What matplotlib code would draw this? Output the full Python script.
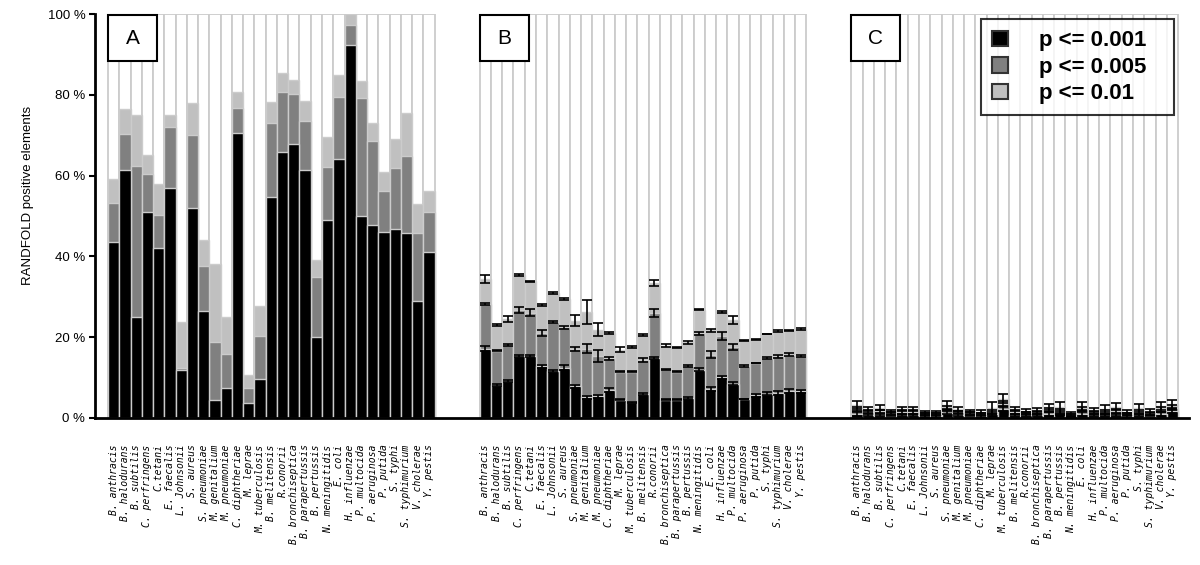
import numpy as np
import matplotlib.pyplot as plt
from matplotlib.patches import Patch, Rectangle

species = ['B. anthracis', 'B. halodurans', 'B. subtilis', 'C. perfringens', 'C.tetani',
           'E. faecalis', 'L. Johnsonii', 'S. aureus', 'S. pneumoniae', 'M. genitalium',
           'M. pneumoniae', 'C. diphtheriae', 'M. leprae', 'M. tuberculosis', 'B. melitensis',
           'R.conorii', 'B. bronchiseptica', 'B. parapertussis', 'B. pertussis',
           'N. meningitidis', 'E. coli', 'H. influenzae', 'P. multocida', 'P. aeruginosa',
           'P. putida', 'S. typhi', 'S. typhimurium', 'V. cholerae', 'Y. pestis']

# A: cumulative fractions (%) per p-value threshold
a_001 = [43.6, 61.4, 24.9, 50.9, 42.0, 56.9, 11.9, 51.9, 26.6, 4.5, 7.4, 70.5, 3.8, 9.7, 54.6,
         65.8, 67.9, 61.3, 20.0, 48.9, 64.1, 92.3, 49.9, 47.7, 46.0, 46.8, 45.8, 29.0, 41.0]
a_005 = [53.2, 70.2, 62.3, 60.3, 50.3, 72.1, 12.4, 70.1, 37.6, 18.8, 15.9, 76.7, 7.5, 20.2, 73.0,
         80.7, 80.3, 73.6, 34.8, 62.2, 79.5, 97.4, 79.1, 68.5, 56.3, 61.8, 64.9, 45.8, 51.1]
a_01 = [59.2, 76.6, 75.1, 65.2, 58.0, 74.9, 23.7, 77.9, 44.1, 38.2, 25.0, 80.6, 10.7, 27.8, 78.3,
        85.4, 83.7, 78.4, 39.0, 69.6, 84.8, 100.0, 83.5, 73.1, 60.8, 69.0, 75.4, 53.0, 56.1]

# B: randomised sequences, mean and error
b_001 = [17.2, 8.2, 9.1, 15.3, 15.3, 12.8, 11.7, 12.4, 7.8, 5.1, 5.4, 7.0, 4.5, 3.9, 5.9,
         14.8, 4.5, 4.5, 4.9, 12.0, 7.2, 10.1, 8.5, 4.7, 5.6, 6.0, 6.2, 6.6, 6.6]
b_005 = [28.1, 16.7, 18.1, 26.8, 26.1, 21.0, 23.7, 22.4, 17.1, 17.2, 15.3, 14.8, 11.5, 11.5, 14.4,
         26.0, 12.1, 11.5, 12.8, 21.0, 15.7, 20.2, 17.6, 12.9, 13.6, 14.8, 15.3, 15.7, 15.4]
b_01 = [34.4, 23.0, 24.5, 35.3, 33.8, 28.0, 30.9, 29.5, 24.1, 26.2, 21.8, 21.0, 16.9, 17.5, 20.6,
        33.4, 17.9, 17.5, 18.7, 26.8, 21.7, 26.2, 24.2, 19.2, 19.4, 20.8, 21.6, 21.7, 22.0]
b_001_err = [0.7, 0.2, 0.3, 0.2, 0.3, 0.4, 0.2, 0.6, 0.3, 0.4, 0.4, 0.5, 0.1, 0.1, 0.3,
             0.3, 0.1, 0.1, 0.2, 0.4, 0.4, 0.4, 0.3, 0.1, 0.3, 0.4, 0.5, 0.5, 0.4]
b_005_err = [0.25, 0.1, 0.2, 0.7, 0.8, 0.7, 0.3, 0.4, 0.4, 1.2, 1.5, 0.4, 0.2, 0.1, 0.5,
             1.0, 0.1, 0.2, 0.2, 0.4, 0.8, 1.0, 0.7, 0.2, 0.1, 0.3, 0.4, 0.4, 0.3]
b_01_err = [0.9, 0.3, 0.7, 0.25, 0.1, 0.3, 0.3, 0.3, 1.3, 2.9, 1.6, 0.2, 0.6, 0.2, 0.3,
            0.8, 0.3, 0.1, 0.3, 0.1, 0.4, 0.3, 1.0, 0.1, 0.2, 0.1, 0.3, 0.2, 0.2]

# C: shuffled sequences, mean and error
c_001 = [1.0, 0.7, 0.8, 0.6, 0.7, 0.7, 0.5, 0.5, 1.3, 0.7, 0.6, 0.5, 1.0, 2.3, 0.8,
         0.7, 0.8, 1.0, 1.2, 0.4, 1.0, 0.7, 0.8, 0.8, 0.5, 0.8, 0.6, 1.0, 1.8]
c_005 = [2.2, 1.6, 1.7, 1.2, 1.5, 1.5, 1.0, 1.0, 2.5, 1.5, 1.2, 1.0, 1.5, 3.5, 1.5,
         1.3, 1.4, 2.0, 1.6, 0.8, 2.2, 1.4, 1.5, 1.7, 1.0, 1.5, 1.1, 2.0, 2.5]
c_01 = [3.2, 2.3, 2.5, 1.7, 2.2, 2.3, 1.5, 1.5, 3.3, 2.2, 1.8, 1.6, 2.5, 4.8, 2.2,
        1.8, 2.0, 2.8, 2.6, 1.2, 3.0, 2.0, 2.3, 2.8, 1.6, 2.5, 1.7, 3.0, 3.5]
c_001_err = [0.4, 0.3, 0.3, 0.2, 0.3, 0.3, 0.2, 0.2, 0.4, 0.3, 0.2, 0.2, 0.5, 0.6, 0.3,
             0.3, 0.3, 0.4, 0.5, 0.2, 0.4, 0.3, 0.3, 0.3, 0.2, 0.3, 0.2, 0.4, 0.5]
c_005_err = [0.5, 0.3, 0.4, 0.2, 0.4, 0.4, 0.2, 0.2, 0.5, 0.3, 0.2, 0.2, 0.6, 0.7, 0.4,
             0.3, 0.4, 0.5, 0.6, 0.2, 0.5, 0.4, 0.4, 0.5, 0.2, 0.5, 0.3, 0.6, 0.6]
c_01_err = [0.9, 0.5, 0.6, 0.3, 0.5, 0.5, 0.3, 0.3, 1.0, 0.5, 0.3, 0.3, 1.4, 1.2, 0.5,
            0.4, 0.5, 0.7, 1.3, 0.3, 0.9, 0.5, 0.8, 0.8, 0.4, 0.9, 0.5, 1.0, 1.0]

panels = ['A', 'B', 'C']
thresholds = ['p <= 0.001', 'p <= 0.005', 'p <= 0.01']
colors = ['#000000', '#808080', '#c0c0c0']
edge = '#cccccc'

data = [
    ([a_001, a_005, a_01], None),
    ([b_001, b_005, b_01], [b_001_err, b_005_err, b_01_err]),
    ([c_001, c_005, c_01], [c_001_err, c_005_err, c_01_err]),
]

n = len(species)
gap = 4

fig = plt.figure(figsize=(12, 5.65), dpi=100)
ax = fig.add_axes([0.0792, 0.2602, 0.9117, 0.7150])

xticks, xlabels = [], []
for k, (levels, errs) in enumerate(data):
    x = k * (n + gap) + np.arange(n) + 0.5
    ax.bar(x, [100] * n, width=1.0, color='white', edgecolor=edge, linewidth=1.3, zorder=1)
    # draw widest threshold first, then stricter ones on top
    for lev, col in zip(levels[::-1], colors[::-1]):
        ax.bar(x, lev, width=1.0, color=col, edgecolor=edge, linewidth=1.0, zorder=2)
    if errs is not None:
        for lev, err in zip(levels, errs):
            ax.errorbar(x, lev, yerr=err, fmt='none', ecolor='black', elinewidth=1.2,
                        capsize=3.5, capthick=1.2, zorder=5)
    x0 = k * (n + gap)
    ax.add_patch(Rectangle((x0, 88.4), 4.35, 11.35, facecolor='white', edgecolor='black',
                           linewidth=1.5, zorder=6, clip_on=False))
    ax.text(x0 + 2.175, 94.0, panels[k], ha='center', va='center', fontsize=15,
            family='Liberation Sans', zorder=7)
    xticks.extend(x)
    xlabels.extend(species)

ax.set_xlim(-1.15, 3 * n + 2 * gap + 0.98)
ax.set_ylim(0, 100)
ax.set_xticks(xticks)
ax.set_xticklabels(xlabels, rotation=90, family='DejaVu Sans Mono', style='oblique', fontsize=7.0)
ax.tick_params(axis='x', length=0, pad=19)

ax.set_yticks([0, 20, 40, 60, 80, 100])
ax.set_yticklabels(['0 %', '20 %', '40 %', '60 %', '80 %', '100 %'],
                   family='Liberation Sans', fontsize=9.5)
ax.tick_params(axis='y', length=4, width=1.5, direction='out', pad=3)
ax.set_ylabel('RANDFOLD positive elements', family='Liberation Sans', fontsize=9.5)
ax.yaxis.set_label_coords(-0.056, 0.55)

for side in ['top', 'right']:
    ax.spines[side].set_visible(False)
ax.spines['left'].set_linewidth(2)
ax.spines['bottom'].set_linewidth(2)

handles = [Patch(facecolor=c, edgecolor='#333333', linewidth=1.5) for c in colors]
leg = ax.legend(handles, thresholds, loc='upper left',
                bbox_to_anchor=(981 / 1200, 1 - 116 / 565, 193 / 1200, 97 / 565),
                bbox_transform=fig.transFigure, mode='expand', frameon=True, fancybox=False,
                prop={'family': 'Liberation Sans', 'weight': 'bold', 'size': 16},
                handlelength=0.7, handleheight=0.7, handletextpad=1.4, labelspacing=0.25,
                borderpad=0.5, borderaxespad=0)
leg.get_frame().set_edgecolor('black')
leg.get_frame().set_linewidth(1.5)
leg.set_zorder(10)

fig.savefig('out.png', dpi=100)
